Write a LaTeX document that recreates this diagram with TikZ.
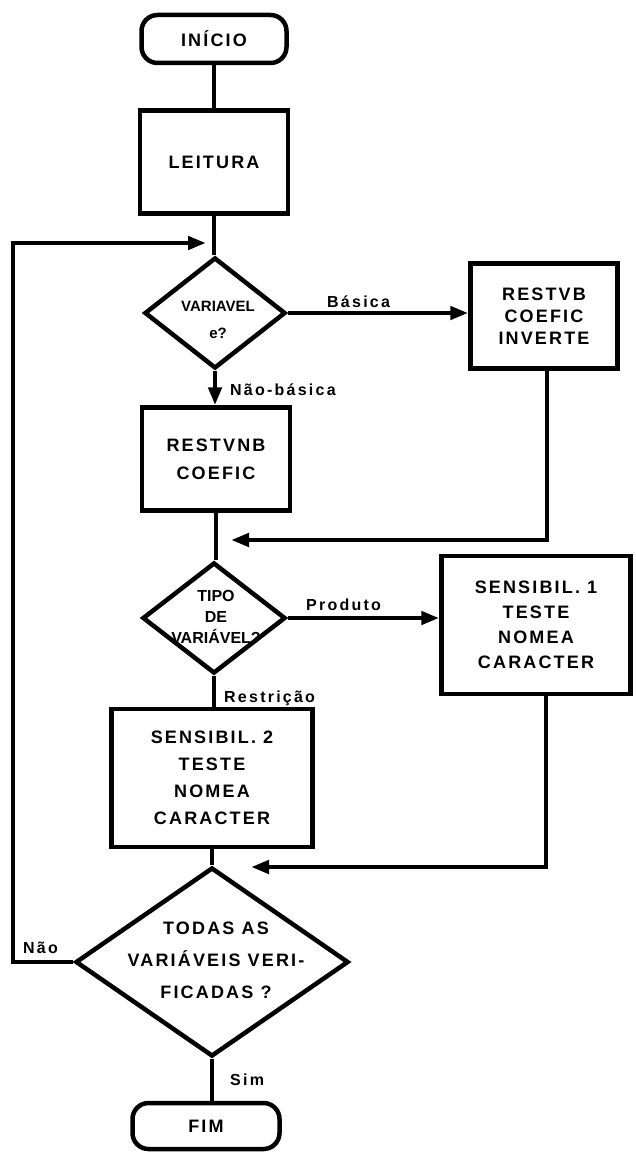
\documentclass[tikz,border=0pt]{standalone}
\usepackage{fontspec}
\setmainfont{Liberation Sans}
\newfontfamily\boxfont[LetterSpace=12]{Liberation Sans}
\newfontfamily\labfont[LetterSpace=14]{Liberation Sans}
\usetikzlibrary{shapes.geometric,arrows.meta}
\tikzset{
  conn/.style={line width=4.5pt},
  arr/.style={line width=4.5pt,-{Triangle[length=18pt,width=13pt]}},
  procbox/.style={draw,line width=4.5pt,rectangle,align=center,inner sep=0pt,
    font=\boxfont\bfseries\fontsize{18}{25}\selectfont},
  termbox/.style={procbox,rounded corners=16pt},
  decision/.style={draw,diamond,line width=4.5pt,inner sep=0pt},
  dtext/.style={align=center,inner sep=0pt},
  lab/.style={inner sep=0pt,anchor=base west,font=\labfont\bfseries\fontsize{16}{18}\selectfont}
}
\begin{document}
\begin{tikzpicture}[x=1pt,y=-1pt]
\useasboundingbox (0,0) rectangle (635,1155);
% nodes
\node[termbox,minimum width=145pt,minimum height=48pt] (start) at (214,39) {INÍCIO};
\node[procbox,minimum width=148pt,minimum height=103pt] (read) at (214,162) {LEITURA};
\node[decision,minimum width=141pt,minimum height=111pt] (d1) at (215,313) {};
\node[dtext,font=\bfseries\fontsize{15}{27}\selectfont] (d1t) at (218,320) {VARIAVEL\\e?};
\node[procbox,minimum width=147pt,minimum height=105pt,font=\boxfont\bfseries\fontsize{18}{22}\selectfont] (rvb) at (544,316) {RESTVB\\COEFIC\\INVERTE};
\node[procbox,minimum width=148pt,minimum height=103pt,font=\boxfont\bfseries\fontsize{18}{28}\selectfont] (rvnb) at (216,459) {RESTVNB\\COEFIC};
\node[decision,minimum width=143pt,minimum height=111pt] (d2) at (214,618) {};
\node[dtext,font=\bfseries\fontsize{16}{21}\selectfont] (d2t) at (216,617) {TIPO\\DE\\VARIÁVEL?};
\node[procbox,minimum width=189pt,minimum height=138pt] (s1) at (536,625) {SENSIBIL. 1\\TESTE\\NOMEA\\CARACTER};
\node[procbox,minimum width=201pt,minimum height=138pt,font=\boxfont\bfseries\fontsize{18}{27}\selectfont] (s2) at (212,778) {SENSIBIL. 2\\TESTE\\NOMEA\\CARACTER};
\node[decision,minimum width=273pt,minimum height=189pt] (d3) at (212,962) {};
\node[dtext,font=\boxfont\bfseries\fontsize{18}{32}\selectfont] (d3t) at (216,960) {TODAS AS\\VARIÁVEIS VERI-\\FICADAS ?};
\node[termbox,minimum width=147pt,minimum height=46pt] (fim) at (206,1126) {FIM};
% labels
\node[lab] (lb1) at (327,308) {Básica};
\node[lab] (lb2) at (230,395) {Não-básica};
\node[lab] (lb3) at (306,610) {Produto};
\node[lab] (lb4) at (224,702) {Restrição};
\node[lab] (lb5) at (23,953) {Não};
\node[lab] (lb6) at (230,1085) {Sim};
% coordinates
\coordinate (lcorner) at (13,243);
\coordinate (loopin) at (206,243);
\coordinate (join1) at (231,540);
\coordinate (join2) at (251,867);
% connectors
\draw[conn] (start.south) -- (start.south |- read.north);
\draw[conn] (read.south) -- (read.south |- d1.north);
\draw[arr] (d3.west) -| (lcorner) -- (loopin);
\draw[arr] (d1.east) -- (d1.east -| rvb.west);
\draw[arr] (d1.south) -- (d1.south |- rvnb.north);
\draw[arr] ([xshift=3pt]rvb.south) |- (join1);
\draw[conn] (rvnb.south) -- (rvnb.south |- d2.north);
\draw[arr] (d2.east) -- (d2.east -| s1.west);
\draw[conn] (d2.south) -- (d2.south |- s2.north);
\draw[arr] ([xshift=10pt]s1.south) |- (join2);
\draw[conn] (s2.south) -- (s2.south |- d3.north);
\draw[conn] (d3.south) -- (d3.south |- fim.north);
\end{tikzpicture}
\end{document}
